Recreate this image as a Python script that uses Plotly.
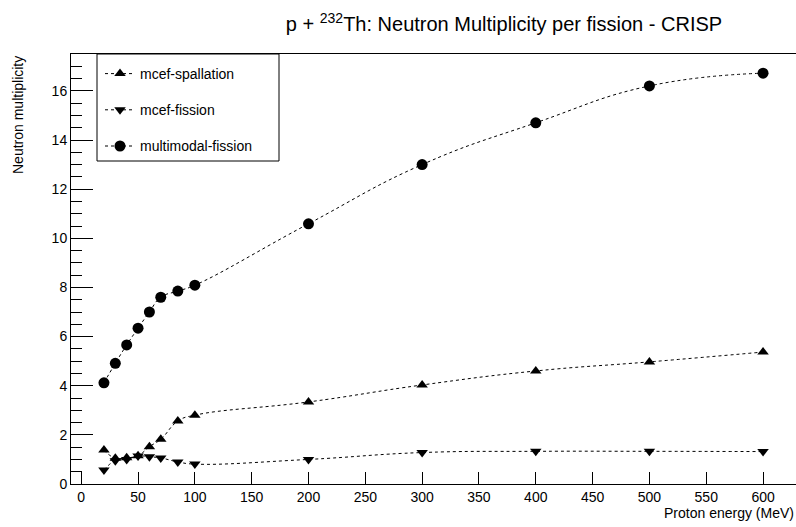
import plotly.graph_objects as go

energy = [20, 30, 40, 50, 60, 70, 85, 100, 200, 300, 400, 500, 600]
mcef_spallation = [1.38, 1.05, 1.07, 1.15, 1.52, 1.82, 2.56, 2.80, 3.34, 4.03, 4.60, 4.97, 5.37]
mcef_fission = [0.57, 0.95, 1.00, 1.14, 1.11, 1.06, 0.90, 0.81, 1.00, 1.28, 1.33, 1.33, 1.32]
multimodal_fission = [4.12, 4.91, 5.66, 6.34, 7.00, 7.60, 7.85, 8.09, 10.59, 13.00, 14.70, 16.20, 16.72]

x_ticks = list(range(0, 601, 50))
y_ticks = list(range(0, 17, 2))

FONT = "Liberation Sans, Arial, Helvetica, sans-serif"
W, H = 796, 527
L, R, T, B = 71, 0, 54, 43

fig = go.Figure()
series = [
    ("mcef-spallation", mcef_spallation, "triangle-up", 10),
    ("mcef-fission", mcef_fission, "triangle-down", 10),
    ("multimodal-fission", multimodal_fission, "circle", 11),
]
for name, vals, sym, size in series:
    fig.add_trace(go.Scatter(
        x=energy, y=vals, name=name, legendgroup=name,
        mode="lines+markers",
        line=dict(color="black", width=1, dash="3px,3px", shape="spline", smoothing=1.3),
        marker=dict(symbol=sym, size=size, color="black"),
    ))

pw = W - L - R
ph = H - T - B
# legend box
fig.add_shape(type="rect", xref="paper", yref="paper",
              x0=(97 - L) / pw, x1=(279 - L) / pw,
              y0=(H - B - 161) / ph, y1=1.0,
              line=dict(color="black", width=1), fillcolor="white", layer="below")

fig.update_layout(
    width=W, height=H,
    margin=dict(l=L, r=R, t=T, b=B, pad=0),
    paper_bgcolor="white", plot_bgcolor="white",
    font=dict(family=FONT, color="black", size=14),
    title=dict(text="p + <sup style='font-size:70%'>232</sup>Th: Neutron Multiplicity per fission - CRISP",
               x=504 / W, xref="container", xanchor="center",
               y=1 - 24 / H, yref="container", yanchor="middle",
               font=dict(size=20, family=FONT, color="black")),
    showlegend=True,
    legend=dict(x=(100 - L) / pw, xanchor="left", y=1 - 4 / ph, yanchor="top",
                bgcolor="rgba(0,0,0,0)", borderwidth=0,
                tracegroupgap=15, font=dict(size=14, family=FONT),
                traceorder="grouped"),
    xaxis=dict(range=[-9, 629], tickvals=x_ticks, ticks="inside", ticklen=12,
               tickcolor="black", showline=True, linecolor="black", linewidth=1,
               mirror=True, showgrid=False, zeroline=False,
               tickfont=dict(size=14, family=FONT)),
    yaxis=dict(range=[0, 17.5], tickvals=y_ticks, ticks="inside", ticklen=22,
               tickcolor="black", showline=True, linecolor="black", linewidth=1,
               mirror=True, showgrid=False, zeroline=False,
               minor=dict(dtick=0.5, ticks="inside", ticklen=11, tickcolor="black", showgrid=False),
               tickfont=dict(size=14, family=FONT)),
    annotations=[
        dict(text="Proton energy (MeV)", xref="paper", yref="paper", x=1.0, y=0,
             xanchor="right", yanchor="middle", yshift=-29, showarrow=False,
             font=dict(size=14, family=FONT)),
        dict(text="Neutron multiplicity", xref="paper", yref="paper", x=0, y=1.0,
             xanchor="center", yanchor="top", xshift=-53, textangle=-90, showarrow=False,
             font=dict(size=14, family=FONT)),
    ],
)

fig.write_html("out.html")
